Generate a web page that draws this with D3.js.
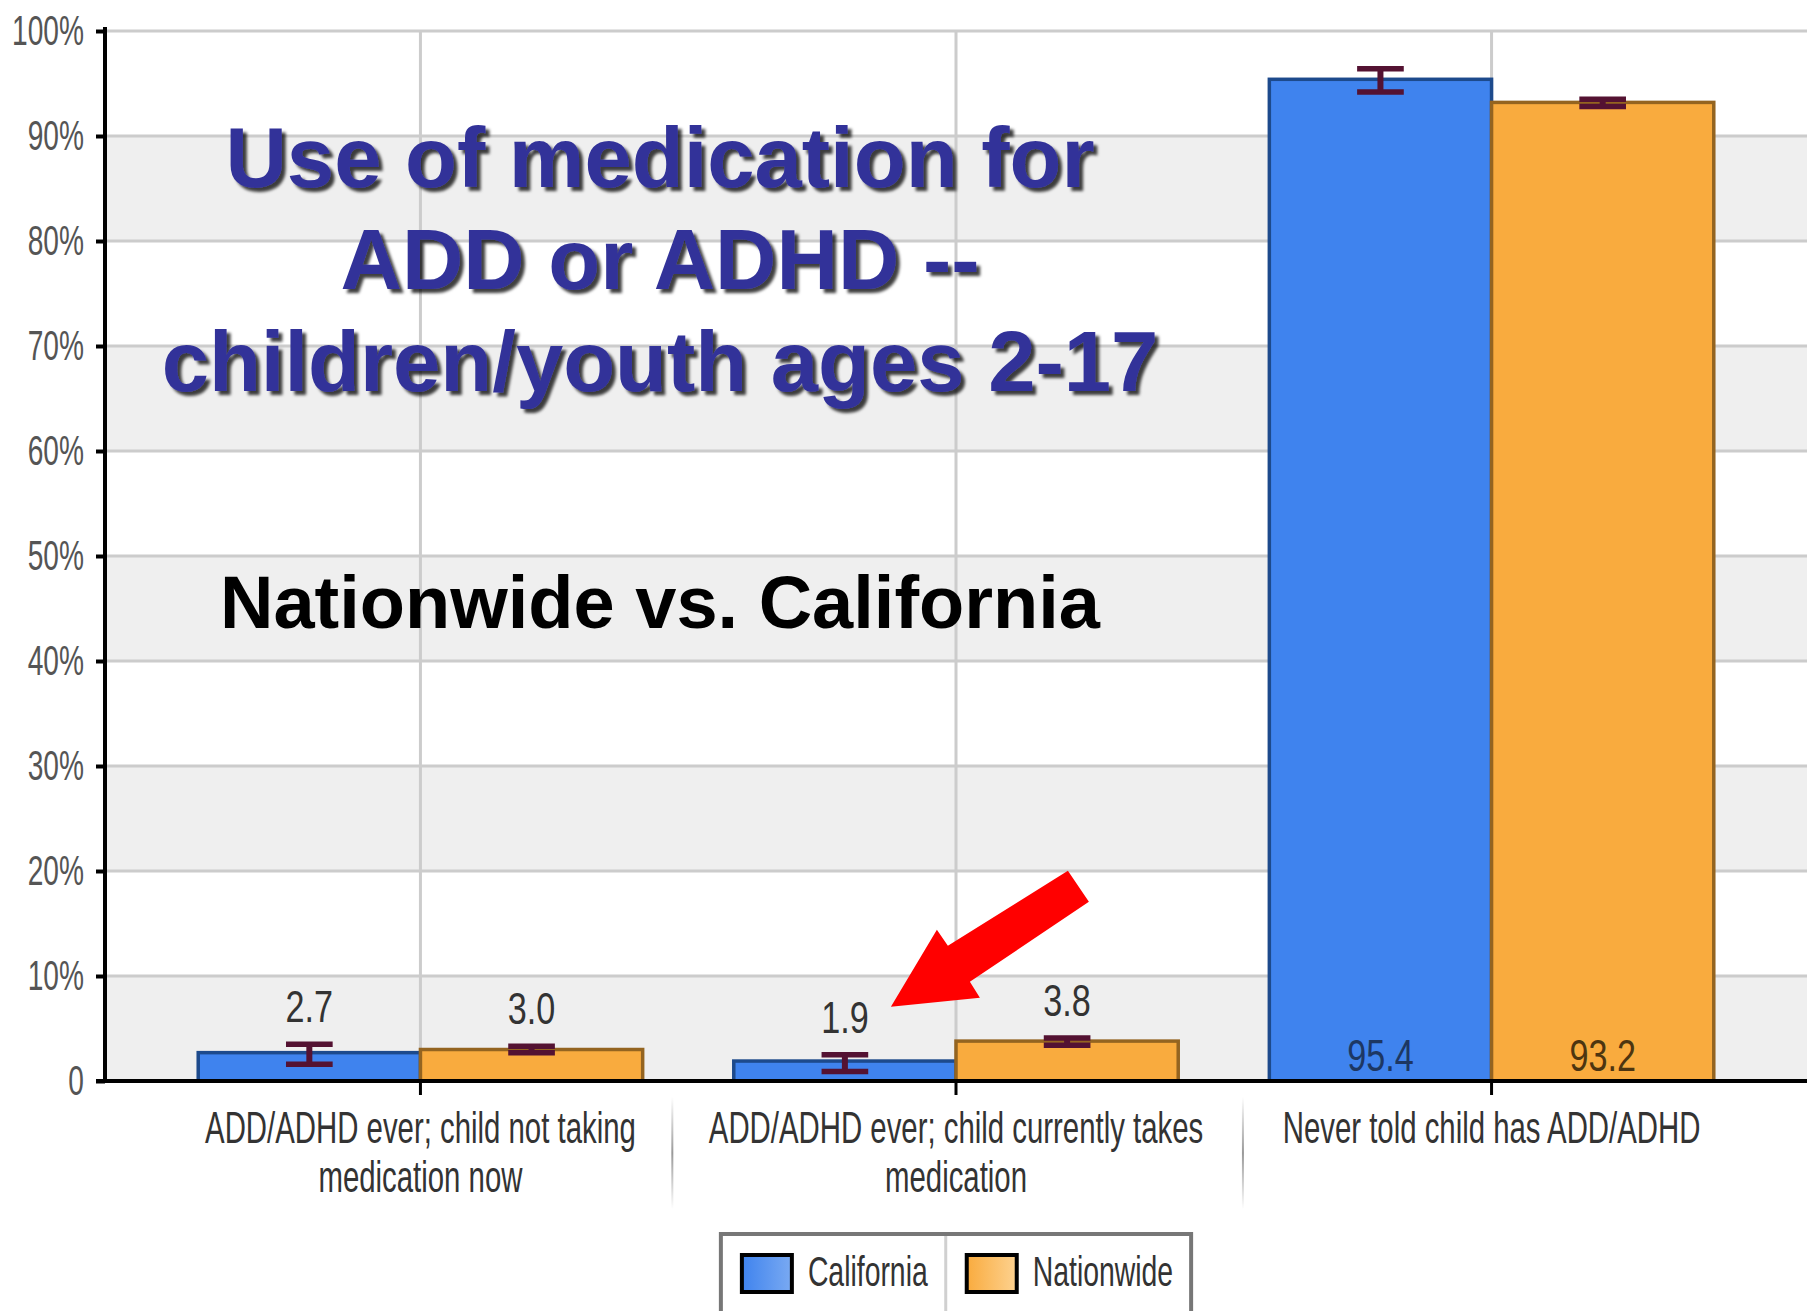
<!DOCTYPE html>
<html>
<head>
<meta charset="utf-8">
<script src="https://cdn.jsdelivr.net/npm/d3@7"></script>
<style>
  html, body { margin: 0; padding: 0; background: #fff; }
  svg { display: block; }
  text { font-family: "Liberation Sans", Arial, sans-serif; }
</style>
</head>
<body>
<svg id="chart" width="1816" height="1311"></svg>
<script>
// ---------- DATA ----------
const categories = [
  "ADD/ADHD ever; child not taking medication now",
  "ADD/ADHD ever; child currently takes medication",
  "Never told child has ADD/ADHD"
];
const categoryLines = [
  ["ADD/ADHD ever; child not taking", "medication now"],
  ["ADD/ADHD ever; child currently takes", "medication"],
  ["Never told child has ADD/ADHD"]
];
const series = ["California", "Nationwide"];
const californiaValues = [2.7, 1.9, 95.4];
const nationwideValues = [3.0, 3.8, 93.2];
const californiaLow  = [1.6, 0.9, 94.2];
const californiaHigh = [3.5, 2.5, 96.4];
const nationwideLow  = [2.7, 3.4, 92.8];
const nationwideHigh = [3.3, 4.1, 93.5];
const yTicks = [0, 10, 20, 30, 40, 50, 60, 70, 80, 90, 100];
const titleLines = ["Use of medication for", "ADD or ADHD --", "children/youth ages 2-17"];
const subtitle = "Nationwide vs. California";

// ---------- STYLE ----------
const W = 1816, H = 1311;
const plot = { left: 105, right: 1807, top: 31, bottom: 1081 };
const fills   = { California: "#3f83ee", Nationwide: "#f9ab3e" };
const strokes = { California: "#1d4a8c", Nationwide: "#946420" };
const insideLabel = { California: "#1d3763", Nationwide: "#4d3510" };
const gradEnd = { California: "#7aaaf2", Nationwide: "#fdd290" };
const errColor = "#541232";

const svg = d3.select("#chart");
const defs = svg.append("defs");
const shadow = defs.append("filter").attr("id", "shadow")
  .attr("x", "-5%").attr("y", "-20%").attr("width", "115%").attr("height", "150%");
shadow.append("feDropShadow").attr("dx", 4).attr("dy", 4).attr("stdDeviation", 1.6)
  .attr("flood-color", "#000").attr("flood-opacity", 0.75);
series.forEach(s => {
  const g = defs.append("linearGradient").attr("id", "grad-" + s)
    .attr("x1", "0%").attr("x2", "100%").attr("y1", "0%").attr("y2", "0%");
  g.append("stop").attr("offset", "0%").attr("stop-color", fills[s]);
  g.append("stop").attr("offset", "100%").attr("stop-color", gradEnd[s]);
});

// ---------- SCALES ----------
const y = d3.scaleLinear().domain([0, 100]).range([plot.bottom, plot.top]);
const x0 = d3.scaleBand().domain(categories).range([plot.left, plot.right])
  .paddingInner(0).paddingOuter(0.089);
const x1 = d3.scaleBand().domain(series).range([0, x0.bandwidth()])
  .paddingInner(0).paddingOuter(0.205);

const rows = categories.map((c, i) => ({
  category: c,
  lines: categoryLines[i],
  bars: [
    { series: "California", value: californiaValues[i], lo: californiaLow[i], hi: californiaHigh[i] },
    { series: "Nationwide", value: nationwideValues[i], lo: nationwideLow[i], hi: nationwideHigh[i] }
  ]
}));

// ---------- BACKGROUND BANDS & GRID ----------
const bands = yTicks.slice(0, -1).filter((t, i) => i % 2 === 0);
svg.append("g").selectAll("rect").data(bands).join("rect")
  .attr("x", plot.left).attr("width", plot.right - plot.left)
  .attr("y", d => y(d + 10)).attr("height", d => y(d) - y(d + 10))
  .attr("fill", "#efefef");

svg.append("g").selectAll("line").data(yTicks.filter(t => t > 0)).join("line")
  .attr("x1", plot.left).attr("x2", plot.right)
  .attr("y1", d => y(d)).attr("y2", d => y(d))
  .attr("stroke", "#cccccc").attr("stroke-width", 3);

svg.append("g").selectAll("line").data(categories).join("line")
  .attr("x1", d => x0(d) + x0.bandwidth() / 2).attr("x2", d => x0(d) + x0.bandwidth() / 2)
  .attr("y1", y(100)).attr("y2", y(0))
  .attr("stroke", "#cccccc").attr("stroke-width", 3);

// ---------- TITLE ----------
const titleX = 660;
svg.append("g").attr("filter", "url(#shadow)")
  .selectAll("text").data(titleLines).join("text")
  .attr("x", titleX).attr("y", (d, i) => 187 + i * 102)
  .attr("text-anchor", "middle")
  .attr("font-size", 85).attr("font-weight", "bold")
  .attr("fill", "#333399")
  .text(d => d);

svg.append("text")
  .attr("x", titleX).attr("y", 628)
  .attr("text-anchor", "middle")
  .attr("font-size", 74).attr("font-weight", "bold")
  .attr("fill", "#000")
  .text(subtitle);

// ---------- BARS ----------
const groups = svg.append("g").selectAll("g").data(rows).join("g")
  .attr("transform", d => `translate(${x0(d.category)},0)`);

groups.selectAll("rect").data(d => d.bars).join("rect")
  .attr("x", d => x1(d.series))
  .attr("width", x1.bandwidth())
  .attr("y", d => y(d.value))
  .attr("height", d => y(0) - y(d.value))
  .attr("fill", d => fills[d.series])
  .attr("stroke", d => strokes[d.series])
  .attr("stroke-width", 3.5);

// error bars
const capW = x1.bandwidth() * 0.21;
const eb = groups.selectAll("g.err").data(d => d.bars).join("g").attr("class", "err")
  .attr("transform", d => `translate(${x1(d.series) + x1.bandwidth() / 2},0)`);
eb.append("line").attr("x1", 0).attr("x2", 0)
  .attr("y1", d => y(d.hi)).attr("y2", d => y(d.lo))
  .attr("stroke", errColor).attr("stroke-width", 6);
eb.append("line").attr("x1", -capW / 2).attr("x2", capW / 2)
  .attr("y1", d => y(d.hi)).attr("y2", d => y(d.hi))
  .attr("stroke", errColor).attr("stroke-width", 5.5);
eb.append("line").attr("x1", -capW / 2).attr("x2", capW / 2)
  .attr("y1", d => y(d.lo)).attr("y2", d => y(d.lo))
  .attr("stroke", errColor).attr("stroke-width", 5.5);

// value labels
groups.selectAll("text.val").data(d => d.bars).join("text").attr("class", "val")
  .attr("transform", d => {
    const cx = x1(d.series) + x1.bandwidth() / 2;
    const ty = d.value > 50 ? y(0) - 10 : y(d.hi) - 22;
    return `translate(${cx},${ty}) scale(0.76,1)`;
  })
  .attr("text-anchor", "middle")
  .attr("font-size", 45)
  .attr("fill", d => d.value > 50 ? insideLabel[d.series] : "#333")
  .text(d => d.value.toFixed(1));

// ---------- AXES ----------
const yAxis = svg.append("g").attr("transform", `translate(${plot.left},0)`)
  .call(d3.axisLeft(y).tickValues(yTicks).tickSize(9).tickFormat(d => d === 0 ? "0" : d + "%"));
yAxis.select(".domain").attr("d", `M0,${plot.top - 4}V${plot.bottom}`)
  .attr("stroke", "#000").attr("stroke-width", 4);
yAxis.selectAll(".tick line").attr("stroke", "#000").attr("stroke-width", 4);
yAxis.selectAll(".tick text")
  .attr("x", null).attr("dy", null)
  .attr("transform", "translate(-21,13) scale(0.67,1)")
  .attr("font-size", 42).attr("font-family", "Liberation Sans, Arial, sans-serif")
  .attr("fill", "#555").attr("text-anchor", "end");

const xAxis = svg.append("g").attr("transform", `translate(0,${plot.bottom})`)
  .call(d3.axisBottom(x0).tickSize(14).tickFormat(""));
xAxis.select(".domain").attr("d", `M${plot.left - 9},0H${plot.right}`)
  .attr("stroke", "#000").attr("stroke-width", 4);
xAxis.selectAll(".tick line").attr("stroke", "#000").attr("stroke-width", 3);

// category labels
const catG = svg.append("g").selectAll("g").data(rows).join("g");
const catTexts = [];
catG.each(function (d) {
  const cx = x0(d.category) + x0.bandwidth() / 2;
  const g = d3.select(this);
  let minX = Infinity, maxX = -Infinity;
  d.lines.forEach((ln, i) => {
    const t = g.append("text")
      .attr("transform", `translate(${cx},${plot.bottom + 62 + i * 49}) scale(0.66,1)`)
      .attr("text-anchor", "middle")
      .attr("font-size", 44.5)
      .attr("fill", "#333")
      .text(ln);
    const w = t.node().getComputedTextLength() * 0.66;
    minX = Math.min(minX, cx - w / 2); maxX = Math.max(maxX, cx + w / 2);
  });
  catTexts.push({ minX, maxX });
});
// separators between category labels
const seps = catTexts.slice(1).map((c, i) => (catTexts[i].maxX + c.minX) / 2);
const sepGrad = defs.append("linearGradient").attr("id", "sepgrad")
  .attr("x1", 0).attr("x2", 0).attr("y1", 0).attr("y2", 1);
sepGrad.append("stop").attr("offset", "0%").attr("stop-color", "#fff");
sepGrad.append("stop").attr("offset", "50%").attr("stop-color", "#999");
sepGrad.append("stop").attr("offset", "100%").attr("stop-color", "#fff");
svg.append("g").selectAll("rect").data(seps).join("rect")
  .attr("x", d => d - 1).attr("width", 2)
  .attr("y", plot.bottom + 16).attr("height", 112)
  .attr("fill", "url(#sepgrad)");

// ---------- ARROW (annotation pointing at California 1.9) ----------
{
  const r = rows[1], b = r.bars[0];
  const tipX = x0(r.category) + x1(b.series) + x1.bandwidth() / 2 + 46;
  const tipY = y(b.hi) - 22 - 26;
  const pts = [[0, 0], [89, -9], [79, -25], [198, -105], [177, -136], [57, -61], [46, -77]];
  svg.append("polygon")
    .attr("points", pts.map(p => [tipX + p[0], tipY + p[1]].join(",")).join(" "))
    .attr("fill", "#ff0000");
}

// ---------- LEGEND ----------
{
  const cx = (plot.left + plot.right) / 2;
  const top = 1234;
  const lg = svg.append("g");
  const items = [];
  let xPos = 0;
  series.forEach((s, i) => {
    const g = lg.append("g");
    g.append("rect").attr("x", xPos + 21).attr("y", top + 21).attr("width", 50).attr("height", 37)
      .attr("fill", `url(#grad-${s})`).attr("stroke", "#000").attr("stroke-width", 4);
    const t = g.append("text")
      .attr("transform", `translate(${xPos + 87},${top + 52}) scale(0.66,1)`)
      .attr("font-size", 43).attr("fill", "#333").text(s);
    const w = t.node().getComputedTextLength() * 0.66;
    const itemW = 87 + w + 18;
    items.push({ x: xPos, w: itemW });
    xPos += itemW;
  });
  const totalW = xPos;
  const left = cx - totalW / 2;
  lg.attr("transform", `translate(${left},0)`);
  lg.insert("rect", ":first-child").attr("x", 0).attr("y", top).attr("width", totalW).attr("height", 120)
    .attr("fill", "#fff").attr("stroke", "#777").attr("stroke-width", 4);
  items.slice(1).forEach(it => {
    lg.append("line").attr("x1", it.x).attr("x2", it.x).attr("y1", top + 2).attr("y2", H)
      .attr("stroke", "#d0d0d0").attr("stroke-width", 3);
  });
}
</script>
</body>
</html>
